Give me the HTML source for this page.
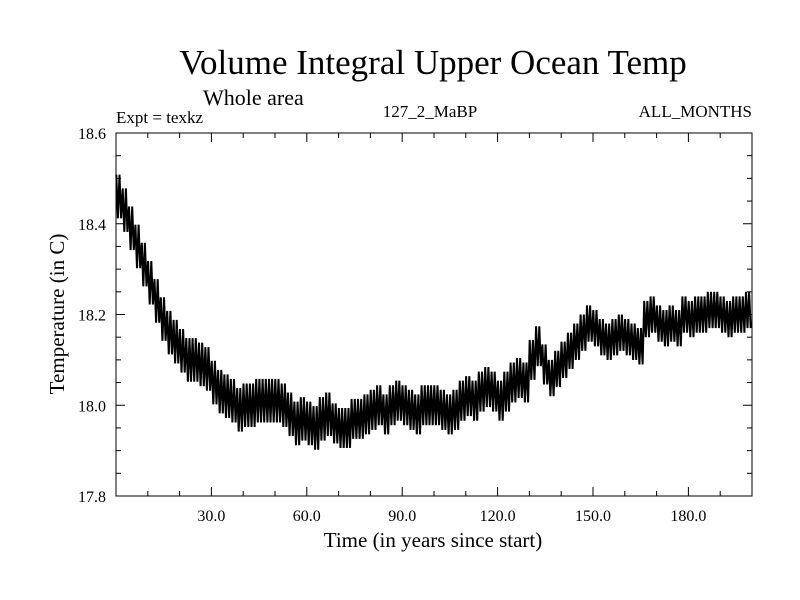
<!DOCTYPE html>
<html><head><meta charset="utf-8"><style>
html,body{margin:0;padding:0;background:#fff}
svg{display:block;font-family:"Liberation Serif",serif}
</style></head><body>
<svg id="c" width="800" height="600">
<text x="433" y="74" font-size="35" text-anchor="middle">Volume Integral Upper Ocean Temp</text>
<text x="203" y="105" font-size="22">Whole area</text>
<text x="116" y="123" font-size="17">Expt = texkz</text>
<text x="430" y="117" font-size="17" text-anchor="middle">127_2_MaBP</text>
<text x="752" y="117" font-size="17" text-anchor="end">ALL_MONTHS</text>
<text x="433" y="547" font-size="21" text-anchor="middle">Time (in years since start)</text>
<text transform="translate(64,314) rotate(-90)" font-size="21" text-anchor="middle">Temperature (in C)</text>
<g id="ax"></g>
<path id="series" fill="none" stroke="#000" stroke-width="2"/>
<rect x="116" y="133" width="636" height="363" fill="none" stroke="#000" stroke-width="1"/>
</svg>
<script>
const years=[0,2,4,6,8,10,12,14,16,18,20,22,24,26,28,30,32,34,36,38,40,42,44,46,48,50,52,54,56,58,60,62,64,66,68,70,72,74,76,78,80,82,84,86,88,90,92,94,96,98,100,102,104,106,108,110,112,114,116,118,120,122,124,126,128,130,132,134,136,138,140,142,144,146,148,150,152,154,156,158,160,162,164,166,168,170,172,174,176,178,180,182,184,186,188,190,192,194,196,198];
const temps=[18.46,18.43,18.39,18.35,18.31,18.27,18.23,18.19,18.16,18.14,18.12,18.10,18.10,18.09,18.08,18.05,18.03,18.02,18.01,17.99,18.00,18.00,18.01,18.01,18.01,18.01,18.00,17.98,17.96,17.97,17.96,17.95,17.97,17.98,17.96,17.95,17.95,17.97,17.97,17.98,17.99,18.00,17.98,18.00,18.01,18.00,17.99,17.98,18.00,18.00,18.00,17.99,17.98,17.99,18.01,18.02,18.01,18.03,18.04,18.03,18.01,18.03,18.05,18.06,18.05,18.10,18.13,18.09,18.06,18.08,18.10,18.12,18.14,18.16,18.18,18.17,18.15,18.14,18.15,18.16,18.15,18.14,18.13,18.19,18.20,18.18,18.17,18.18,18.17,18.20,18.19,18.20,18.20,18.21,18.21,18.20,18.19,18.20,18.20,18.21];
const seasonalHalfRange=[0.048,0.044,0.04];
const xTicks=[30,60,90,120,150,180];
const xTickLabels=["30.0","60.0","90.0","120.0","150.0","180.0"];
const yTicks=[17.8,18.0,18.2,18.4,18.6];
const yTickLabels=["17.8","18.0","18.2","18.4","18.6"];
const X0=116,X1=752,Y0=496,Y1=133,XMIN=0,XMAX=200,YMIN=17.8,YMAX=18.6;
const sx=v=>X0+(v-XMIN)/(XMAX-XMIN)*(X1-X0);
const sy=v=>Y0-(v-YMIN)/(YMAX-YMIN)*(Y0-Y1);
const NS="http://www.w3.org/2000/svg";
const ax=document.getElementById('ax');
function ln(x1,y1,x2,y2,name){const l=document.createElementNS(NS,'line');l.setAttribute('x1',x1);l.setAttribute('y1',y1);l.setAttribute('x2',x2);l.setAttribute('y2',y2);l.setAttribute('stroke','#000');


ax.appendChild(l);}
function tx(x,y,s,anchor,name){const t=document.createElementNS(NS,'text');t.setAttribute('x',x);t.setAttribute('y',y);t.setAttribute('font-size','16');t.setAttribute('text-anchor',anchor);t.textContent=s;


ax.appendChild(t);}
for(let v=10;v<XMAX;v+=10){const major=v%30===0;const L=major?9:5;const x=sx(v);ln(x,Y0,x,Y0-L,'x-tick');ln(x,Y1,x,Y1+L,'x-tick-top');}
xTicks.forEach((v,i)=>tx(sx(v),521,xTickLabels[i],'middle','x-tick-label'));
for(let k=0;k<=16;k++){const v=YMIN+k*0.05;const major=k%4===0;const L=major?9:5;const y=sy(v);ln(X0,y,X0+L,y,'y-tick');ln(X1,y,X1-L,y,'y-tick-right');}
yTicks.forEach((v,i)=>tx(106,sy(v)+6,yTickLabels[i],'end','y-tick-label'));
let d='';
years.forEach((yr,i)=>{const h=seasonalHalfRange[Math.min(2,Math.floor(i/34))];const m=temps[i];
for(let k=0;k<2;k++){const t=yr+k;d+=(d?'L':'M')+sx(t+0.1).toFixed(1)+','+sy(m+h).toFixed(1)+'L'+sx(t+0.6).toFixed(1)+','+sy(m-h).toFixed(1);}});
document.getElementById('series').setAttribute('d',d);
</script>
</body></html>
